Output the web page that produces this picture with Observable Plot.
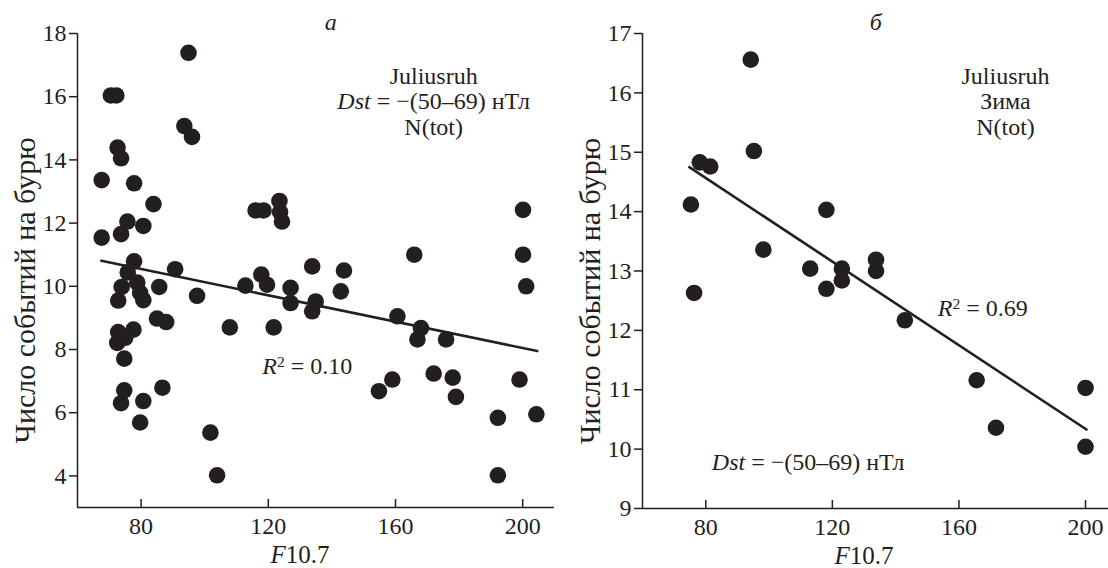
<!DOCTYPE html>
<html>
<head>
<meta charset="utf-8">
<script src="https://cdn.jsdelivr.net/npm/d3@7"></script>
<script src="https://cdn.jsdelivr.net/npm/@observablehq/plot@0.6"></script>
<style>
  html, body { margin: 0; padding: 0; background: #fff; }
  #wrap { display: flex; width: 1108px; height: 568px; }
  #wrap > div { height: 568px; }
  #wrap svg { display: block; }
</style>
</head>
<body>
<div id="wrap"><div id="pa"></div><div id="pb"></div></div>
<script>
// ---- Panel а: all seasons ----
const leftF107 = [67.6, 67.6, 70.5, 72.2, 72.6, 73.7, 73.7, 75.7, 77.8, 80.7, 83.9, 77.8, 75.8, 73.9, 78.8, 72.8, 79.7, 80.7,
  85.7, 90.7, 97.6, 85.0, 87.9, 107.9, 72.8, 77.6, 72.5, 75.0, 74.7, 74.7, 73.7, 80.7, 86.7, 79.7, 101.8, 103.9,
  94.9, 93.6, 96.0, 116.0, 118.5, 123.5, 123.7, 124.3, 112.8, 117.8, 119.6, 127.0, 133.8, 143.8, 142.8, 127.0,
  134.9, 133.8, 121.7, 160.6, 168.0, 166.9, 175.9, 159.0, 154.8, 172.0, 178.0, 179.0, 199.0, 192.2, 204.3, 192.2,
  201.1, 165.9, 200.1, 200.1];
const leftN = [13.36, 11.54, 16.04, 16.04, 14.39, 14.05, 11.65, 12.05, 13.26, 11.91, 12.6, 10.79, 10.44, 9.98, 10.12, 9.55, 9.79, 9.56,
  9.98, 10.54, 9.70, 8.98, 8.87, 8.70, 8.55, 8.63, 8.21, 8.37, 7.71, 6.71, 6.30, 6.37, 6.79, 5.69, 5.37, 4.02,
  17.39, 15.07, 14.73, 12.4, 12.4, 12.7, 12.35, 12.05, 10.02, 10.37, 10.05, 9.95, 10.63, 10.5, 9.84, 9.47,
  9.52, 9.21, 8.70, 9.05, 8.68, 8.32, 8.32, 7.05, 6.68, 7.24, 7.11, 6.50, 7.05, 5.84, 5.95, 4.02,
  10.0, 11.0, 11.0, 12.42];
const leftFitF107 = [67.5, 204.6];
const leftFitN = [10.81, 7.95];

// ---- Panel б: winter ----
const rightF107 = [94.2, 95.2, 78.1, 81.4, 75.3, 98.2, 118.1, 113.0, 123.0, 123.0, 118.1, 76.3, 133.8, 133.8, 142.9, 165.6, 171.7, 200, 200];
const rightN = [16.56, 15.02, 14.83, 14.76, 14.12, 13.36, 14.03, 13.04, 13.04, 12.84, 12.70, 12.63, 13.19, 13.00, 12.17, 11.16, 10.36, 11.03, 10.04];
const rightFitF107 = [74.8, 200.3];
const rightFitN = [14.75, 10.33];

// ---- ticks & texts ----
const xTicks = [80, 120, 160, 200];
const leftYTicks = [4, 6, 8, 10, 12, 14, 16, 18];
const rightYTicks = [9, 10, 11, 12, 13, 14, 15, 16, 17];
const yTitle = "Число событий на бурю";
const xTitle = "F10.7";
const leftPanelLetter = "а";
const rightPanelLetter = "б";
const station = "Juliusruh";
const dstText = "Dst = −(50–69) нТл";
const seasonText = "Зима";
const ntotText = "N(tot)";
const leftR2 = "R2 = 0.10";
const rightR2 = "R2 = 0.69";

const ink = "#231f20";
const fontName = "'Liberation Serif', 'Times New Roman', serif";

function rows(xs, ys) { return xs.map((x, i) => ({x, y: ys[i]})); }

function richify(svg) {
  const rich = {
    [xTitle]: '<tspan font-style="italic">F</tspan>10.7',
    [dstText]: '<tspan font-style="italic">Dst</tspan> = −(50–69) нТл',
    [leftR2]: '<tspan font-style="italic">R</tspan><tspan dy="-0.45em" font-size="0.65em">2</tspan><tspan dy="0.3em"> = 0.10</tspan>',
    [rightR2]: '<tspan font-style="italic">R</tspan><tspan dy="-0.45em" font-size="0.65em">2</tspan><tspan dy="0.3em"> = 0.69</tspan>',
    [leftPanelLetter]: '<tspan font-style="italic">' + leftPanelLetter + '</tspan>',
    [rightPanelLetter]: '<tspan font-style="italic">' + rightPanelLetter + '</tspan>'
  };
  const s = d3.select(svg);
  s.selectAll("style").remove();
  s.attr("class", null).attr("font-family", fontName).attr("style", "font-family:" + fontName + ";background:white;overflow:visible");
  s.selectAll("g").attr("font-family", null).attr("font-variant", null);
  s.selectAll("text").each(function() {
    const t = this.textContent;
    const size = t === yTitle ? 30 : t === xTitle ? 25 : 24;
    if (rich[t] !== undefined) this.innerHTML = rich[t];
    this.setAttribute("font-family", fontName);
    this.setAttribute("font-size", size);
    this.setAttribute("style", "font-family:" + fontName + ";font-size:" + size + "px;fill:" + ink);
  });
  return svg;
}

function panel(target, {width, marginLeft, marginRight, marginBottom, xDomain, yDomain, yTicks, xs, ys, fx, fy, annotations}) {
  const svg = Plot.plot({
    width, height: 568,
    marginLeft, marginRight, marginTop: 33, marginBottom,
    style: {fontSize: "24px", color: ink, background: "white", overflow: "visible"},
    x: {domain: xDomain},
    y: {domain: yDomain},
    marks: [
      Plot.ruleX([xDomain[0]], {stroke: ink, strokeWidth: 1.5}),
      Plot.ruleY([yDomain[0]], {stroke: ink, strokeWidth: 1.5}),
      Plot.axisY({ticks: yTicks, tickSize: 8, tickPadding: 3, label: null, stroke: ink, strokeWidth: 1.5}),
      Plot.axisX({ticks: xTicks, tickSize: -8, tickPadding: 17, label: null, stroke: ink, strokeWidth: 1.5}),
      Plot.dot(rows(xs, ys), {x: "x", y: "y", r: 8.3, fill: ink, stroke: "none"}),
      Plot.line(rows(fx, fy), {x: "x", y: "y", stroke: ink, strokeWidth: 2.6}),
      Plot.text([yTitle], {frameAnchor: "left", rotate: -90, dx: -52, dy: 20, textAnchor: "middle", lineAnchor: "middle", fill: ink}),
      Plot.text([xTitle], {x: 130, frameAnchor: "bottom", dy: 47, textAnchor: "middle", lineAnchor: "middle", fill: ink}),
      ...annotations
    ]
  });
  richify(svg);
  document.getElementById(target).append(svg);
}

panel("pa", {
  width: 560, marginLeft: 77, marginRight: 6, marginBottom: 61,
  xDomain: [60, 210], yDomain: [3, 18], yTicks: leftYTicks,
  xs: leftF107, ys: leftN, fx: leftFitF107, fy: leftFitN,
  annotations: [
    Plot.text([leftPanelLetter], {x: 139.6, y: 18.35, fill: ink}),
    Plot.text([station], {x: 172, y: 16.64, fill: ink}),
    Plot.text([dstText], {x: 172, y: 15.84, fill: ink}),
    Plot.text([ntotText], {x: 172, y: 15.04, fill: ink}),
    Plot.text([leftR2], {x: 118.1, y: 7.46, textAnchor: "start", fill: ink})
  ]
});

panel("pb", {
  width: 548, marginLeft: 82, marginRight: 0, marginBottom: 60,
  xDomain: [60, 207.26], yDomain: [9, 17], yTicks: rightYTicks,
  xs: rightF107, ys: rightN, fx: rightFitF107, fy: rightFitN,
  annotations: [
    Plot.text([rightPanelLetter], {x: 133.7, y: 17.19, fill: ink}),
    Plot.text([station], {x: 174.7, y: 16.28, fill: ink}),
    Plot.text([seasonText], {x: 174.7, y: 15.85, fill: ink}),
    Plot.text([ntotText], {x: 174.7, y: 15.42, fill: ink}),
    Plot.text([rightR2], {x: 153.3, y: 12.37, textAnchor: "start", fill: ink}),
    Plot.text([dstText], {x: 81.9, y: 9.78, textAnchor: "start", fill: ink})
  ]
});
</script>
</body>
</html>
